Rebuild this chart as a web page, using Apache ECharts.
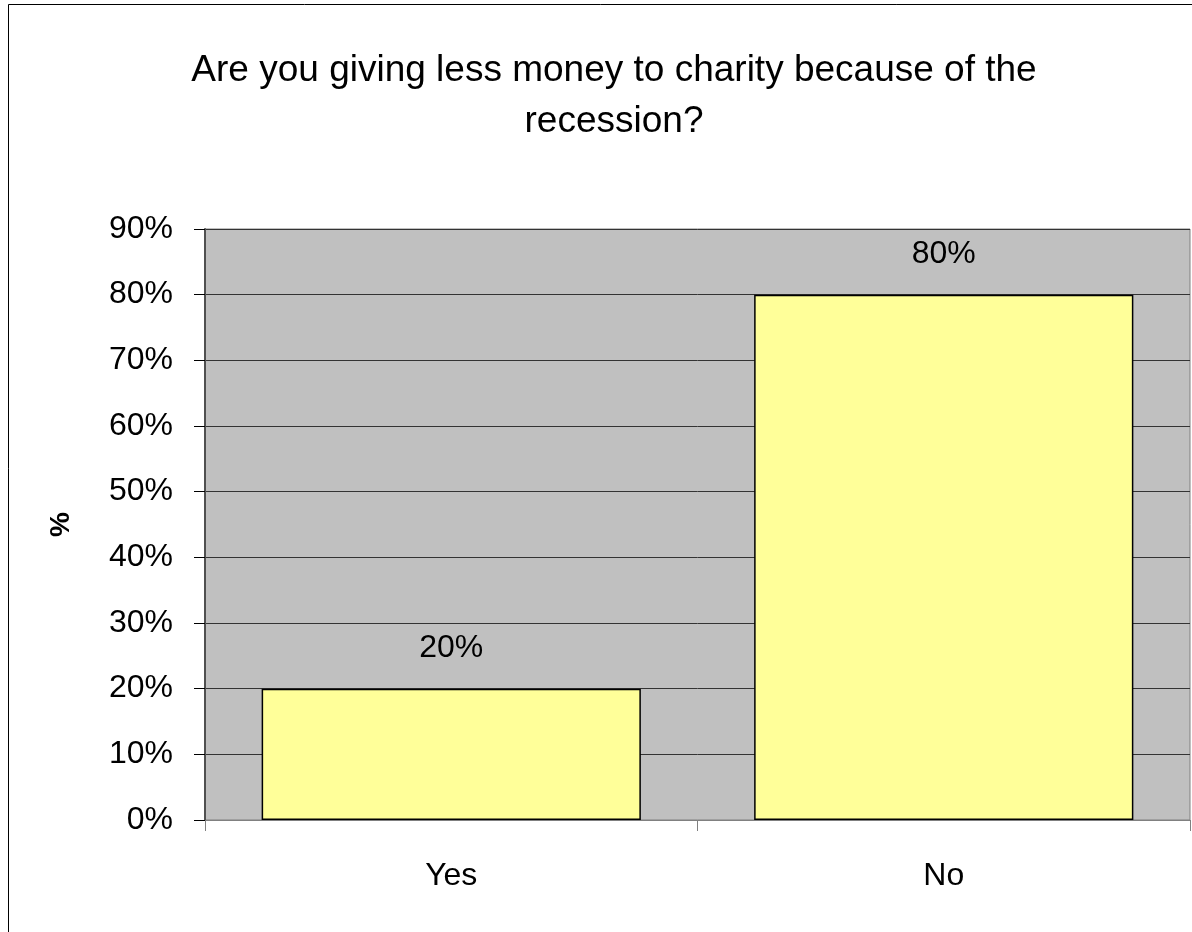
<!DOCTYPE html>
<html>
<head>
<meta charset="utf-8">
<script src="https://cdn.jsdelivr.net/npm/echarts@6/dist/echarts.min.js"></script>
<style>
  html, body { margin: 0; padding: 0; background: #fff; }
  #chart { width: 1192px; height: 932px; }
</style>
</head>
<body>
<div id="chart"></div>
<script>
// Survey answers and their shares (percent)
const categories = ['Yes', 'No'];
const shares = [20, 80];
const yTicks = [0, 10, 20, 30, 40, 50, 60, 70, 80, 90];

const FONT = '"Liberation Sans", Arial, sans-serif';
const chart = echarts.init(document.getElementById('chart'));

chart.setOption({
  animation: false,
  backgroundColor: '#ffffff',
  title: {
    text: 'Are you giving less money to charity because of the\nrecession?',
    left: 609,
    textAlign: 'center',
    top: 40,
    textStyle: { fontFamily: FONT, fontSize: 37, fontWeight: 'normal', color: '#000', lineHeight: 51 }
  },
  graphic: [{
    type: 'rect',
    shape: { x: 8.5, y: 4.5, width: 1250, height: 1000 },
    style: { fill: 'none', stroke: '#000', lineWidth: 1 },
    silent: true
  }],
  grid: {
    left: 205, top: 229, width: 985, height: 591,
    show: true, backgroundColor: '#C0C0C0', borderColor: '#808080', borderWidth: 1
  },
  xAxis: {
    type: 'category',
    data: categories,
    axisLine: { show: true, lineStyle: { color: '#808080', width: 1 } },
    axisTick: { show: true, length: 11, lineStyle: { color: '#808080' } },
    axisLabel: { fontFamily: FONT, fontSize: 32, color: '#000', margin: 40 }
  },
  yAxis: {
    type: 'value',
    min: yTicks[0],
    max: yTicks[yTicks.length - 1],
    interval: 10,
    name: '%',
    nameLocation: 'middle',
    nameGap: 130,
    nameRotate: 90,
    nameTextStyle: { fontFamily: FONT, fontSize: 28, fontWeight: 'bold', color: '#000' },
    axisLine: { show: true, lineStyle: { color: '#505050', width: 2 } },
    axisTick: { show: true, length: 11, lineStyle: { color: '#000' } },
    axisLabel: { fontFamily: FONT, fontSize: 32, color: '#000', margin: 32, formatter: v => v + '%' },
    splitLine: { show: true, lineStyle: { color: '#333', width: 1 } }
  },
  series: [{
    type: 'bar',
    data: shares,
    barCategoryGap: '23%',
    itemStyle: { color: '#FFFF99', borderColor: '#000', borderWidth: 1.5 },
    label: {
      show: true,
      position: 'top',
      distance: 24,
      fontFamily: FONT,
      fontSize: 32,
      color: '#000',
      formatter: p => p.value + '%'
    }
  }]
});
</script>
</body>
</html>
